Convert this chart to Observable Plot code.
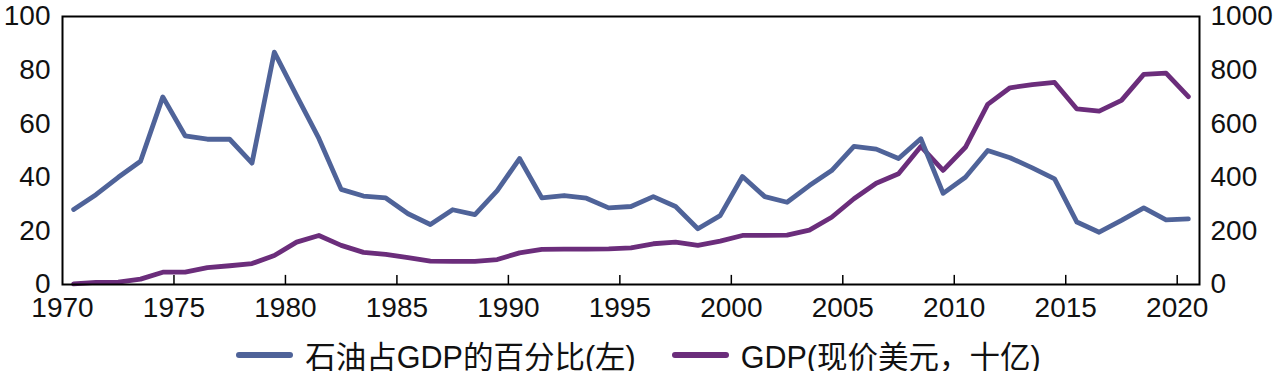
<!DOCTYPE html>
<html>
<head>
<meta charset="utf-8">
<script src="https://cdn.jsdelivr.net/npm/d3@7"></script>
<script src="https://cdn.jsdelivr.net/npm/@observablehq/plot@0.6"></script>
<style>
  html, body { margin: 0; padding: 0; background: #fff; }
  body { width: 1277px; font-family: "Liberation Sans", Arial, "Noto Sans CJK SC", sans-serif; }
  #legend { display: flex; justify-content: center; align-items: center; height: 32px; margin-top: 9px; font-size: 30.5px; color: #111; }
  .item { display: flex; align-items: center; margin: 0 18px; }
  .sw { width: 57px; height: 6px; border-radius: 3px; margin-right: 12px; }
</style>
</head>
<body>
<div id="chart"></div>
<div id="legend"></div>
<script>
const years = [1970,1971,1972,1973,1974,1975,1976,1977,1978,1979,
  1980,1981,1982,1983,1984,1985,1986,1987,1988,1989,
  1990,1991,1992,1993,1994,1995,1996,1997,1998,1999,
  2000,2001,2002,2003,2004,2005,2006,2007,2008,2009,
  2010,2011,2012,2013,2014,2015,2016,2017,2018,2019,2020];

// Oil as % of GDP (left axis)
const oilPct = [28,33.5,40,46,70,55.5,54.2,54.2,45.3,86.7,
  70.5,54.5,35.5,33,32.3,26.4,22.4,27.9,26.1,35,
  47,32.3,33.2,32.2,28.6,29.1,32.8,29.1,20.8,25.7,
  40.3,32.8,30.7,36.9,42.5,51.5,50.5,47,54.4,34,
  40,50,47.3,43.5,39.4,23.3,19.5,23.9,28.6,24.1,24.5];

// GDP, current USD billions (right axis)
const gdp = [2,8,9,20,46,46,63,70,78,108,
  158,183,146,120,112,100,87,86,86,93,
  118,131,132,132,133,137,152,158,146,162,
  183,183,184,203,251,320,378,413,515,426,
  512,672,734,746,754,655,647,687,784,789,701];

const xTicks = [1970,1975,1980,1985,1990,1995,2000,2005,2010,2015,2020];
const innerTicks = [1975,1980,1985,1990,1995,2000,2005,2010,2015,2020];
const leftTicks = [0,20,40,60,80,100];
const rightTicks = [0,200,400,600,800,1000];

const seriesNames = ["石油占GDP的百分比(左)", "GDP(现价美元，十亿)"];
const colors = ["#4f6399", "#6b2d7b"];

const oilData = years.map((y, i) => ({year: y + 0.5, v: oilPct[i]}));
const gdpData = years.map((y, i) => ({year: y + 0.5, v: gdp[i] / 10}));

const font = '"Liberation Sans", Arial, sans-serif';

const chart = Plot.plot({
  width: 1277,
  height: 330,
  marginLeft: 62,
  marginRight: 78,
  marginTop: 16,
  marginBottom: 46,
  style: {fontFamily: font, fontSize: "28px", color: "#111", background: "#fff"},
  x: {domain: [1970, 2021]},
  y: {domain: [0, 100]},
  marks: [
    Plot.line(gdpData, {x: "year", y: "v", stroke: colors[1], strokeWidth: 4.8}),
    Plot.line(oilData, {x: "year", y: "v", stroke: colors[0], strokeWidth: 4.8}),
    Plot.ruleX(innerTicks, {x: d => d, y1: 0, y2: 3.4, stroke: "#000", strokeWidth: 1.5}),
    Plot.frame({stroke: "#000", strokeWidth: 2}),
    Plot.axisX({ticks: xTicks, tickSize: 0, tickPadding: 13, tickFormat: d => String(d), label: null, fontSize: 28}),
    Plot.axisY({ticks: leftTicks, anchor: "left", tickSize: 0, tickPadding: 12, label: null, fontSize: 28}),
    Plot.axisY({ticks: rightTicks.map(d => d / 10), anchor: "right", tickSize: 0, tickPadding: 11, tickFormat: d => String(Math.round(d * 10)), label: null, fontSize: 28})
  ]
});
document.getElementById("chart").appendChild(chart);

const legend = document.getElementById("legend");
seriesNames.forEach((name, i) => {
  const item = document.createElement("div");
  item.className = "item";
  const sw = document.createElement("div");
  sw.className = "sw";
  sw.style.background = colors[i];
  const t = document.createElement("span");
  t.textContent = name;
  item.appendChild(sw);
  item.appendChild(t);
  legend.appendChild(item);
});
</script>
</body>
</html>
